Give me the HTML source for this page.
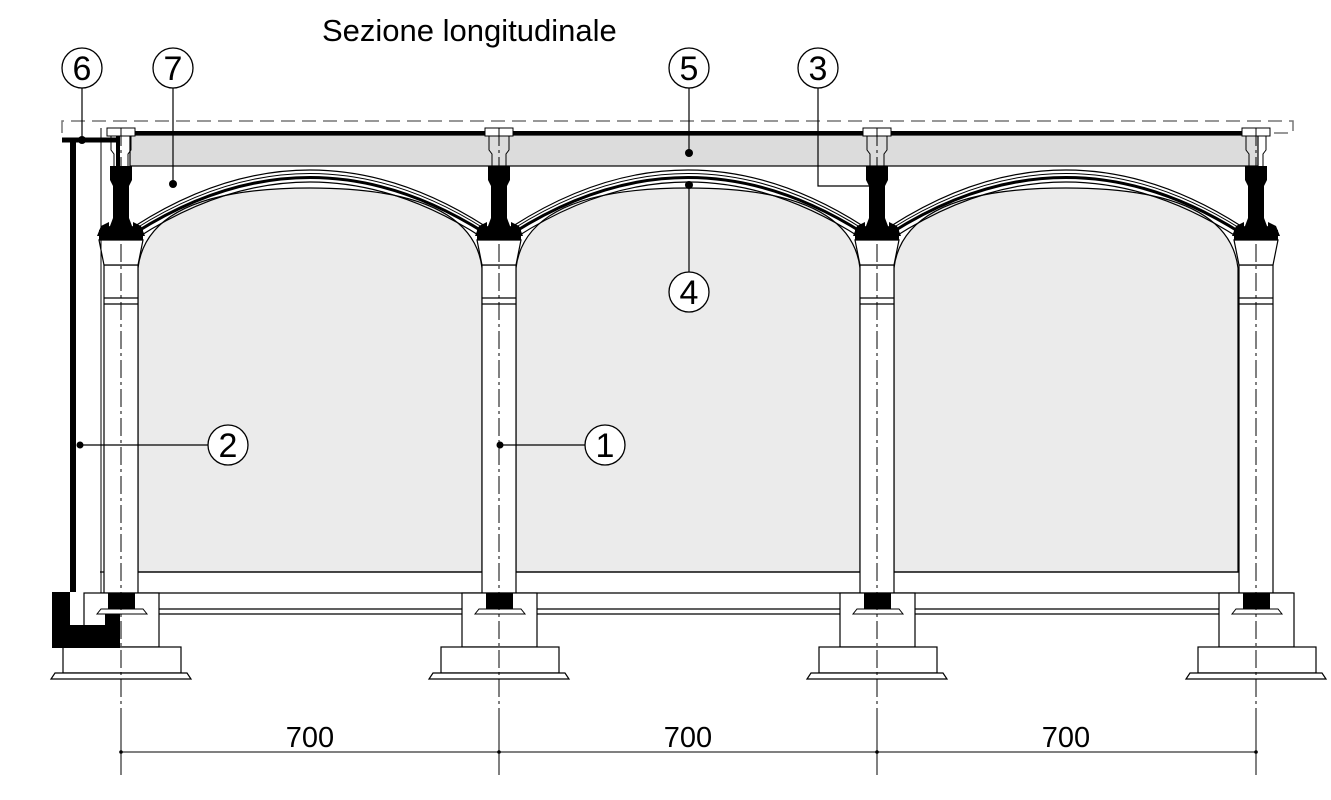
<!DOCTYPE html>
<html><head><meta charset="utf-8"><style>
html,body{margin:0;padding:0;background:#fff;}
svg{display:block;}
text{font-family:"Liberation Sans",sans-serif;fill:#000;}
</style></head><body>
<svg width="1331" height="800" viewBox="0 0 1331 800" xmlns="http://www.w3.org/2000/svg">
<defs>
<g id="arch">
  <path d="M17,268 C24,210 90,188 189,188 C288,188 354,210 361,268 L361,572 L17,572 Z" fill="#ebebeb" stroke="#000" stroke-width="1.2"/>
  <path d="M14,226 Q189,114 364,226" fill="none" stroke="#000" stroke-width="1.2"/>
  <path d="M14,229 Q189,118 364,229" fill="none" stroke="#000" stroke-width="1"/>
  <path d="M14,233 Q189,122 364,233" fill="none" stroke="#000" stroke-width="3"/>
  <path d="M16,238 Q189,126 362,238" fill="none" stroke="#000" stroke-width="1.2"/>
</g>
<g id="col">
  <rect x="-17" y="265" width="34" height="328" fill="#fff" stroke="#000" stroke-width="1.2"/>
  <line x1="-17" y1="298" x2="17" y2="298" stroke="#000" stroke-width="1.2"/>
  <line x1="-17" y1="304" x2="17" y2="304" stroke="#000" stroke-width="1.2"/>
  <path d="M-22,240 L22,240 L17,265 L-17,265 Z" fill="#fff" stroke="#000" stroke-width="1.2"/>
  <rect x="-14" y="128" width="28" height="8" fill="#fff" stroke="#000" stroke-width="1"/>
  <path d="M-10,136 L-10,150 L-7,154 L-7,166 M10,136 L10,150 L7,154 L7,166" fill="none" stroke="#000" stroke-width="1"/>
  <path d="M-11,166 L11,166 L11,180 L8,186 L8,218 L11,226 L22,230 L22,240 L-22,240 L-22,230 L-11,226 L-8,218 L-8,186 L-11,180 Z" fill="#000"/>
  <path d="M-20,226 L-12,222 L-12,236 L-24,236 Z M20,226 L12,222 L12,236 L24,236 Z" fill="#000"/>
  <rect x="-37" y="593" width="75" height="54" fill="#fff" stroke="#000" stroke-width="1.2"/>
  <rect x="-58" y="647" width="118" height="26" fill="#fff" stroke="#000" stroke-width="1.2"/>
  <path d="M-66,673 L66,673 L70,679 L-70,679 Z" fill="#fff" stroke="#000" stroke-width="1.2"/>
  <path d="M-20,609 L22,609 L26,614 L-24,614 Z" fill="#fff" stroke="#000" stroke-width="1"/>
  <rect x="-13" y="593" width="27" height="16" fill="#000"/>
  <line x1="0" y1="128" x2="0" y2="715" stroke="#000" stroke-width="1" stroke-dasharray="18,4,3,4"/>
</g>
</defs>

<text x="322" y="41" font-size="31">Sezione longitudinale</text>

<path d="M62,133 L62,121 L1293,121 L1293,133 L1270,133" fill="none" stroke="#777" stroke-width="1.5" stroke-dasharray="14,7"/>
<rect x="130" y="135" width="1128" height="31" fill="#dcdcdc" stroke="#000" stroke-width="1.2"/>
<line x1="118" y1="133" x2="1256" y2="133" stroke="#000" stroke-width="4"/>
<line x1="118" y1="131" x2="118" y2="166" stroke="#000" stroke-width="4"/>

<use href="#arch" x="121"/>
<use href="#arch" x="499"/>
<use href="#arch" x="877"/>

<line x1="100" y1="572" x2="1256" y2="572" stroke="#000" stroke-width="1.2"/>
<line x1="100" y1="593" x2="1293" y2="593" stroke="#000" stroke-width="1.2"/>
<line x1="100" y1="609" x2="1293" y2="609" stroke="#000" stroke-width="1.2"/>
<line x1="100" y1="614" x2="1293" y2="614" stroke="#000" stroke-width="1.2"/>

<use href="#col" x="121"/>
<use href="#col" x="499"/>
<use href="#col" x="877"/>
<use href="#col" x="1256"/>

<line x1="62" y1="140" x2="120" y2="140" stroke="#000" stroke-width="5"/>
<line x1="73" y1="140" x2="73" y2="592" stroke="#000" stroke-width="6"/>
<line x1="101" y1="128" x2="101" y2="593" stroke="#000" stroke-width="1"/>
<path d="M52,592 L70,592 L70,625 L105,625 L105,614 L120,614 L120,648 L52,648 Z" fill="#000"/>

<g fill="#fff" stroke="#000" stroke-width="1.3">
<circle cx="82" cy="68" r="20"/><circle cx="173" cy="68" r="20"/>
<circle cx="689" cy="68" r="20"/><circle cx="818" cy="68" r="20"/>
<circle cx="689" cy="292" r="20"/><circle cx="228" cy="445" r="20"/>
<circle cx="605" cy="445" r="20"/>
</g>
<g stroke="#000" stroke-width="1.2" fill="none">
<path d="M82,88 L82,140"/><path d="M173,88 L173,184"/>
<path d="M689,88 L689,153"/><path d="M818,88 L818,186 L870,186"/>
<path d="M689,272 L689,185"/><path d="M208,445 L80,445"/>
<path d="M585,445 L500,445"/>
</g>
<g fill="#000">
<circle cx="82" cy="140" r="4"/><circle cx="173" cy="184" r="4"/>
<circle cx="689" cy="153" r="4"/><circle cx="689" cy="185" r="4"/>
<circle cx="80" cy="445" r="3.5"/><circle cx="500" cy="445" r="3.5"/>
</g>
<g font-size="34" text-anchor="middle">
<text x="82" y="80">6</text><text x="173" y="80">7</text>
<text x="689" y="80">5</text><text x="818" y="80">3</text>
<text x="689" y="304">4</text><text x="228" y="457">2</text>
<text x="605" y="457">1</text>
</g>

<line x1="121" y1="752" x2="1256" y2="752" stroke="#000" stroke-width="1"/>
<g stroke="#000" stroke-width="1">
<line x1="121" y1="715" x2="121" y2="775"/><line x1="499" y1="715" x2="499" y2="775"/>
<line x1="877" y1="715" x2="877" y2="775"/><line x1="1256" y1="715" x2="1256" y2="775"/>
</g>
<g fill="#000"><circle cx="121" cy="752" r="1.8"/><circle cx="499" cy="752" r="1.8"/><circle cx="877" cy="752" r="1.8"/><circle cx="1256" cy="752" r="1.8"/></g>
<g font-size="29" text-anchor="middle">
<text x="310" y="747">700</text><text x="688" y="747">700</text><text x="1066" y="747">700</text>
</g>
</svg>
</body></html>
